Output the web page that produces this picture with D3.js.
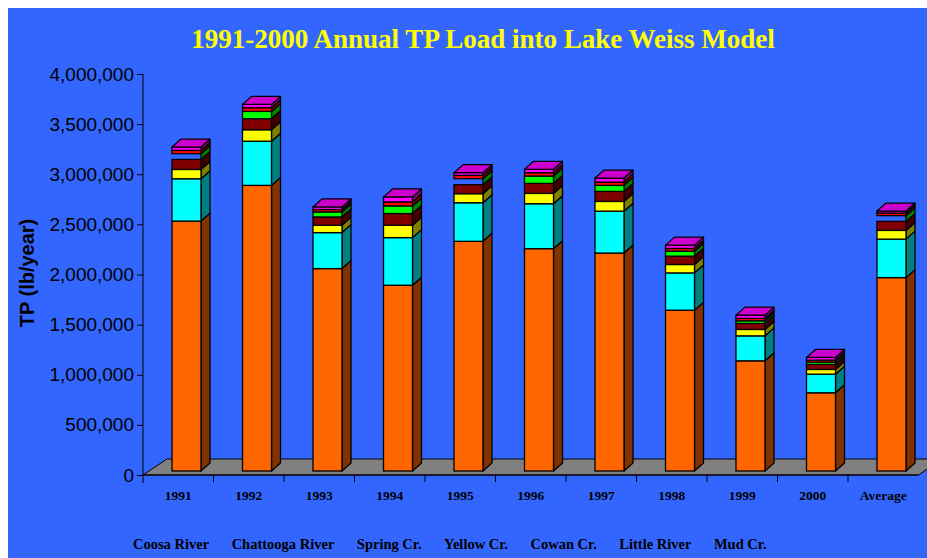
<!DOCTYPE html>
<html>
<head>
<meta charset="utf-8">
<script src="https://cdnjs.cloudflare.com/ajax/libs/d3/7.8.5/d3.min.js"></script>
<style>
  body { margin: 0; background: #fff; }
  svg { display: block; }
</style>
</head>
<body>
<svg id="chart"></svg>
<script>
// Data (lb/year)
const years = ["1991", "1992", "1993", "1994", "1995", "1996", "1997", "1998", "1999", "2000", "Average"];
const seriesNames = ["Coosa River", "Chattooga River", "Spring Cr.", "Yellow Cr.", "Cowan Cr.", "Little River", "Mud Cr."];
const coosa     = [2493000, 2849000, 2019000, 1853000, 2291000, 2218000, 2174000, 1604000, 1099000, 780000, 1929000];
const chattooga = [422000, 441000, 359000, 475000, 385000, 448000, 418000, 372000, 249000, 186000, 384000];
const spring    = [93000, 114000, 73000, 123000, 90000, 103000, 97000, 84000, 64000, 47000, 87000];
const yellowCr  = [100000, 110000, 83000, 117000, 90000, 100000, 100000, 83000, 60000, 50000, 90000];
const cowan     = [57000, 73000, 50000, 76000, 60000, 73000, 60000, 50000, 26000, 23000, 57000];
const little    = [33000, 37000, 24000, 40000, 33000, 34000, 33000, 27000, 24000, 20000, 26000];
const mud       = [33000, 33000, 26000, 50000, 27000, 33000, 40000, 33000, 33000, 27000, 20000];
const yTicks = [0, 500000, 1000000, 1500000, 2000000, 2500000, 3000000, 3500000, 4000000];
// bars where the Cowan Cr. front face is not drawn in the original
const cowanFrontMissing = ["1991", "1995", "Average"];

const colors = ["#FF6600", "#00FFFF", "#FFFF00", "#800000", "#00FF00", "#FF0000", "#FF00FF"];

const width = 927, height = 558;
const svg = d3.select("#chart").attr("width", width).attr("height", height);

svg.append("rect")
    .attr("x", 8).attr("y", 8)
    .attr("width", width - 8).attr("height", height - 8)
    .attr("fill", "#3366FF");

// Title
svg.append("text")
    .attr("x", 483).attr("y", 48)
    .attr("text-anchor", "middle")
    .attr("font-family", "'Liberation Serif', 'Times New Roman', serif")
    .attr("font-weight", "bold")
    .attr("font-size", 27)
    .attr("fill", "#FFFF00")
    .text("1991-2000 Annual TP Load into Lake Weiss Model");

// Scales
const x0 = 143, x1 = 918.5;
const xScale = d3.scaleBand().domain(years).range([x0, x1]);
const yScale = d3.scaleLinear().domain([0, 4000000]).range([475, 74]);

// 3D offsets
const floorDx = 24, floorDy = -16;
const barDx = 9, barDy = -8;
const barShift = 4;           // bars stand a little behind the front edge of the floor
const barOffset = 29, barW = 29;

// Floor
svg.append("path")
    .attr("d", `M${x0},475 L${x1},475 L${x1 + floorDx},${475 + floorDy} L${x0 + floorDx},${475 + floorDy} Z`)
    .attr("fill", "#808080")
    .attr("stroke", "#000")
    .attr("stroke-width", 1);

// Stack data
const table = years.map((y, i) => ({
    year: y,
    s0: coosa[i], s1: chattooga[i], s2: spring[i], s3: yellowCr[i],
    s4: cowan[i], s5: little[i], s6: mud[i]
}));
const keys = ["s0", "s1", "s2", "s3", "s4", "s5", "s6"];
const stacked = d3.stack().keys(keys)(table);

function shade(col, f) {
    const c = d3.rgb(col);
    return d3.rgb(c.r * f, c.g * f, c.b * f);
}

const bars = svg.append("g");
years.forEach((yr, i) => {
    const g = bars.append("g");
    const left = xScale(yr) + barOffset;
    const right = left + barW;
    stacked.forEach((layer, k) => {
        const d = layer[i];
        const yb = yScale(d[0]) - barShift;
        const yt = yScale(d[1]) - barShift;
        // side face
        g.append("path")
            .attr("d", `M${right},${yb} L${right + barDx},${yb + barDy} L${right + barDx},${yt + barDy} L${right},${yt} Z`)
            .attr("fill", shade(colors[k], 0.5))
            .attr("stroke", "#000").attr("stroke-width", 1.3).attr("stroke-linejoin", "round");
        // front face
        if (!(k === 4 && cowanFrontMissing.includes(yr))) {
            g.append("rect")
                .attr("x", left).attr("y", yt)
                .attr("width", barW).attr("height", yb - yt)
                .attr("fill", colors[k])
                .attr("stroke", "#000").attr("stroke-width", 1.3);
        }
        // top face on the last layer
        if (k === keys.length - 1) {
            g.append("path")
                .attr("d", `M${left},${yt} L${right},${yt} L${right + barDx},${yt + barDy} L${left + barDx},${yt + barDy} Z`)
                .attr("fill", "#CC00CC")
                .attr("stroke", "#000").attr("stroke-width", 1.3).attr("stroke-linejoin", "round");
        }
    });
});

// Y axis
const yAxis = svg.append("g")
    .attr("transform", `translate(${x0},0)`)
    .call(d3.axisLeft(yScale).tickValues(yTicks).tickSize(6).tickPadding(3)
        .tickFormat(d3.format(",")));
yAxis.select(".domain").attr("d", `M0,74 V483`).attr("stroke", "#000");
yAxis.selectAll(".tick line").attr("stroke", "#000");
yAxis.selectAll("text")
    .attr("font-family", "'Liberation Sans', Arial, sans-serif")
    .attr("font-size", 19)
    .attr("fill", "#000");

// X axis
const xAxis = svg.append("g").attr("transform", "translate(0,475)");
xAxis.append("line")
    .attr("x1", x0).attr("x2", x1).attr("y1", 0).attr("y2", 0)
    .attr("stroke", "#000");
xAxis.selectAll(".xtick")
    .data(years.slice(1))
    .enter().append("line")
    .attr("x1", d => xScale(d)).attr("x2", d => xScale(d))
    .attr("y1", 0).attr("y2", 7)
    .attr("stroke", "#000");
xAxis.selectAll(".xlab")
    .data(years)
    .enter().append("text")
    .attr("x", d => xScale(d) + xScale.bandwidth() / 2)
    .attr("y", 25)
    .attr("text-anchor", "middle")
    .attr("font-family", "'Liberation Serif', 'Times New Roman', serif")
    .attr("font-weight", "bold")
    .attr("font-size", 13.5)
    .attr("fill", "#000")
    .text(d => d);

// Y axis label
svg.append("text")
    .attr("transform", "rotate(-90)")
    .attr("x", -273).attr("y", 34)
    .attr("text-anchor", "middle")
    .attr("font-family", "'Liberation Sans', Arial, sans-serif")
    .attr("font-weight", "bold")
    .attr("font-size", 20)
    .attr("fill", "#000")
    .text("TP (lb/year)");

// Legend (text only, as in the original)
let lx = 133;
seriesNames.forEach(name => {
    const t = svg.append("text")
        .attr("x", lx).attr("y", 549)
        .attr("font-family", "'Liberation Serif', 'Times New Roman', serif")
        .attr("font-weight", "bold")
        .attr("font-size", 14.5)
        .attr("fill", "#000")
        .text(name);
    lx += t.node().getComputedTextLength() + 22.5;
});
</script>
</body>
</html>
